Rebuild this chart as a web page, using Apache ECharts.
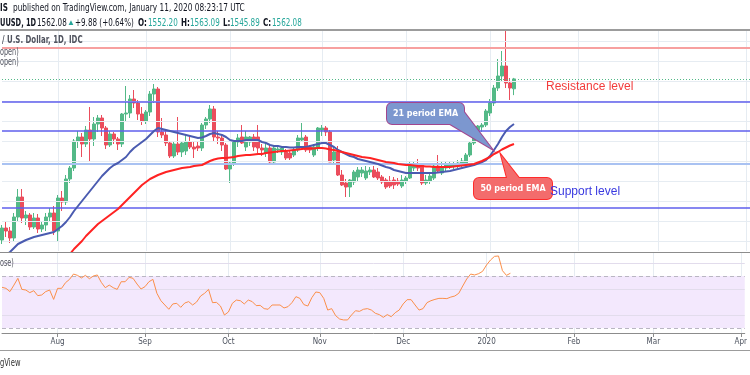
<!DOCTYPE html>
<html><head><meta charset="utf-8">
<script src="https://cdn.jsdelivr.net/npm/echarts@6/dist/echarts.min.js"></script>
<style>html,body{margin:0;padding:0;background:#fff}#c{width:750px;height:375px}</style>
</head><body><div id="c"></div><script>
// ---------- DATA ----------
const opens = [1401,1413,1410,1403,1424,1444,1423,1426,1414,1423,
 1412,1416,1424,1428,1410,1443,1439,1462,1473,1500,
 1504,1497,1511,1502,1517,1523,1513,1496,1507,1502,
 1497,1527,1528,1542,1538,1527,1520,1529,1547,1552,
 1509,1506,1498,1485,1497,1489,1490,1499,1494,1495,
 1493,1516,1522,1532,1504,1503,1496,1472,1478,1499,
 1504,1494,1499,1504,1504,1493,1488,1493,1479,1491,
 1489,1489,1488,1486,1491,1501,1504,1494,1486,1493,
 1511,1513,1509,1481,1489,1466,1458,1454,1459,1464,
 1468,1463,1469,1471,1469,1464,1461,1460,1461,1460,
 1455,1460,1463,1473,1476,1476,1458,1460,1463,1475,
 1468,1473,1474,1475,1475,1476,1478,1486,1498,1511,
 1514,1516,1528,1538,1553,1565,1575,1558,1552.2];
const highs = [1416,1419,1414,1428,1452,1452,1430,1428,1428,1427,
 1419,1428,1433,1435,1446,1450,1466,1475,1502,1510,
 1508,1515,1534,1524,1526,1526,1515,1510,1509,1504,
 1528,1555,1546,1551,1541,1534,1531,1550,1557,1554,
 1523,1511,1500,1500,1524,1500,1506,1505,1500,1500,
 1518,1524,1536,1535,1510,1507,1498,1480,1501,1507,
 1516,1510,1505,1507,1516,1497,1498,1496,1495,1494,
 1495,1492,1490,1494,1506,1518,1506,1496,1497,1514,
 1516,1515,1511,1494,1495,1471,1462,1462,1471,1474,
 1474,1475,1474,1475,1473,1466,1463,1465,1464,1463,
 1466,1465,1480,1480,1482,1478,1466,1468,1478,1486,
 1479,1480,1479,1479,1481,1483,1488,1500,1512,1516,
 1518,1532,1542,1556,1582,1590,1612,1563,1563.09];
const lows = [1397,1404,1398,1400,1420,1418,1416,1411,1412,1408,
 1409,1410,1420,1406,1399,1430,1436,1458,1470,1493,
 1484,1494,1480,1495,1509,1505,1492,1494,1497,1491,
 1494,1520,1523,1533,1521,1516,1517,1525,1538,1504,
 1503,1495,1483,1483,1486,1484,1486,1492,1483,1490,
 1490,1512,1518,1500,1497,1490,1471,1458,1475,1494,
 1497,1490,1495,1490,1488,1485,1484,1476,1477,1488,
 1486,1481,1481,1484,1489,1499,1489,1488,1484,1490,
 1505,1505,1479,1478,1465,1455,1444,1444,1456,1460,
 1464,1461,1466,1463,1461,1457,1452,1453,1452,1455,
 1453,1457,1462,1470,1470,1456,1456,1457,1461,1468,
 1466,1470,1472,1472,1473,1474,1476,1484,1496,1506,
 1509,1514,1525,1535,1550,1560,1553,1541,1545.89];
const closes = [1413,1410,1403,1424,1444,1423,1426,1414,1423,1412,
 1416,1424,1428,1410,1443,1439,1462,1473,1500,1504,
 1497,1511,1502,1517,1523,1513,1496,1507,1502,1497,
 1527,1528,1542,1538,1527,1520,1529,1547,1552,1509,
 1506,1498,1485,1497,1489,1498,1499,1494,1492,1493,
 1516,1522,1532,1504,1503,1496,1472,1478,1499,1503,
 1498,1504,1504,1494,1493,1491,1493,1479,1493,1492,
 1493,1483,1483,1491,1503,1503,1491,1491,1494,1513,
 1513,1509,1479,1489,1466,1456,1454,1461,1469,1471,
 1471,1470,1471,1464,1463,1459,1454,1455,1456,1457,
 1461,1463,1476,1476,1473,1458,1461,1465,1475,1470,
 1473,1476,1476,1476,1478,1480,1486,1498,1510,1515,
 1516,1530,1538,1553,1565,1575,1558,1553,1562.08];
const ema21 = [1383,1386,1389,1393,1397,1399,1401,1402.5,1404,1405,
 1406,1407,1408,1409,1412,1415,1419,1424,1430,1435,
 1440,1445,1450,1455,1460,1465,1469,1473,1476,1478,
 1481,1484,1489,1493,1496,1499,1502,1506,1510,1513,
 1512,1511,1510,1509,1508,1507,1506,1505,1504,1503,
 1503.5,1505,1507,1508,1507,1506,1504,1501,1500,1500,
 1500,1501,1501,1501,1501,1499,1498,1496,1495,1495,
 1494,1494,1493.5,1493.5,1494,1494,1494,1495,1496,1497,
 1498,1498,1496,1494,1491,1489,1487,1485,1484,1482,
 1481,1480,1479,1478,1477,1475.5,1474,1473,1471,1470,
 1469,1468,1468,1468,1468,1468,1468,1468,1468,1468.5,
 1469,1469.5,1470,1471,1472,1473,1474,1475,1476,1477.5,
 1479,1481,1485,1491,1497,1504,1510,1514,1517];
const ema50 = ['-','-','-','-','-','-','-','-','-','-',
 '-','-','-','-','-','-',1383,1387,1392,1396,
 1400,1405,1409,1413,1417,1420,1423,1426,1429,1432,
 1436,1440,1444,1448,1452,1456,1459,1462,1464,1466,
 1467.5,1469,1470,1471,1472,1473,1473.5,1474,1475,1475.5,
 1476,1478,1480,1481.5,1482.5,1483,1483,1483.5,1484,1485,
 1485.5,1486,1486,1486.5,1487,1487,1488,1488.5,1489,1489.5,
 1490,1490,1490.5,1491,1491.5,1492,1492.5,1492.5,1492.5,1493,
 1493,1492.5,1491.5,1491,1490,1489,1488,1487,1486,1485,
 1484,1483.5,1483,1482,1481,1480,1479,1478.5,1478,1477,
 1476.5,1476,1476,1475.5,1475,1475,1474.5,1474.5,1474,1474,
 1474,1474,1474,1474.5,1475,1475.5,1476,1476.5,1477,1478.5,
 1480,1482,1484,1487,1489,1491.5,1493.5,1495.5,1497];
const rsi14 = [61.3,60.5,58,63,68.2,59.7,59.2,57.2,58.7,54.9,
 55.4,58,59.2,52,60.5,60.5,64.9,67.4,71.5,70.5,
 68.5,70.5,67.9,70,70.8,65.1,61,63,61,59.7,
 65.6,65.6,69,68.2,63.8,60,61.8,65.6,67.4,56.7,
 51,47.7,44.4,48.5,49,45.9,49.2,50.3,47.7,50,
 54.6,56.7,59.7,49.5,49.7,46.9,40,42.3,49,51.5,
 51,48.5,51.5,50.3,47.2,47.4,44.9,44.4,47.7,47.7,
 47.7,45.4,46.4,49.5,54.1,52.8,48,46.9,53.3,57.7,
 57.2,52.8,43.8,44.9,39.5,36.9,36.2,36.2,40,43.3,
 42.8,44.4,44.9,43.8,41.3,40.3,38.2,40.3,38.7,41.8,
 43.8,48.5,51.8,51.8,47.7,43.8,44.9,49.5,51,52,
 52.8,52.8,52.6,53.8,54.6,56.7,62.3,67.7,71.5,70.8,
 71.8,73.6,78.5,82.3,85.1,85.4,74.1,70.5,72.1];
const redLevels = [1593];
const blueLevels = [1539, 1510, 1433];
const lightBlueLevels = [1477];
const priceGridLevels = [1400,1420,1440,1460,1480,1500,1520,1540,1560,1580,1600];
const rsiBandLevels = [30, 70];
const rsiGridLevels = [40, 60, 80];
const tickDates = ['2019-08-01','2019-09-02','2019-10-01','2019-11-01','2019-12-02','2020-01-02','2020-02-03','2020-03-02','2020-04-01'];
const tickLabels = ['Aug','Sep','Oct','Nov','Dec','2020','Feb','Mar','Apr'];
const holidays = ['2019-12-25','2020-01-01'];
const firstDay = '2019-07-12', lastDay = '2020-04-02';

// ---------- BUILD ----------
function tradingDays(a, b, skip) {
  const out = [];
  const d = new Date(a + 'T00:00:00Z'), e = new Date(b + 'T00:00:00Z');
  while (d <= e) {
    const wd = d.getUTCDay();
    const s = d.toISOString().slice(0, 10);
    if (wd !== 0 && wd !== 6 && skip.indexOf(s) < 0) out.push(s);
    d.setUTCDate(d.getUTCDate() + 1);
  }
  return out;
}
const cats = tradingDays(firstDay, lastDay, holidays);
const candles = opens.map((o, i) => [o, closes[i], lows[i], highs[i]]);
const isTick = (idx, val) => tickDates.indexOf(val) >= 0;

const NARROW = "'Liberation Sans Narrow','DejaVu Sans Condensed','Arial Narrow',sans-serif";
const SANS = "'Liberation Sans',Arial,sans-serif";
const GRIDC = '#e6ecf2';
const UP = '#53b987', DOWN = '#eb4d5c', TEAL = '#26a69a';

function txt(x, y, text, font, fill, align, sx) {
  return { type: 'text', x: x, y: y, z: 100, silent: true, scaleX: sx || 1,
    style: { text: text, font: font, fill: fill, textAlign: align || 'left', align: align || 'left',
             textVerticalAlign: 'middle', verticalAlign: 'middle' } };
}
function line(x1, y1, x2, y2, color, w) {
  return { type: 'line', z: 90, silent: true, shape: { x1: x1, y1: y1, x2: x2, y2: y2 },
    style: { stroke: color, lineWidth: w } };
}
function callout(box, tail, fill, stroke, label) {
  const r = { x: box[0], y: box[1], width: box[2], height: box[3], r: 5 };
  return [
    { type: 'polygon', z: 95, silent: true, shape: { points: tail }, style: { fill: fill, stroke: stroke, lineWidth: 2 } },
    { type: 'rect', z: 95, silent: true, shape: r, style: { fill: fill, stroke: stroke, lineWidth: 2 } },
    { type: 'polygon', z: 96, silent: true, shape: { points: tail }, style: { fill: fill } },
    { type: 'rect', z: 96, silent: true, shape: r, style: { fill: fill } },
    txt(box[0] + box[2] / 2, box[1] + box[3] / 2 + 0.5, label, "bold 9.5px 'DejaVu Sans',sans-serif", '#ffffff', 'center', 0.84)
  ];
}

const HF = '10px ' + NARROW, HB = 'bold 10px ' + NARROW, SX = 0.8;
const DARK = '#131722', GREY = '#50535e';
const graphics = [
  line(0, 30, 750, 30, '#9c9c9c', 2),
  line(0, 252.5, 750, 252.5, '#8c8c8c', 1),
  line(0, 350.5, 750, 350.5, '#9c9c9c', 1),
  txt(0, 8, 'IS', HB, DARK, 'left', SX),
  txt(13, 8, 'published on TradingView.com, January 11, 2020 08:23:17 UTC', HF, DARK, 'left', 0.82),
  txt(0, 23, 'UUSD, 1D', HB, DARK, 'left', 0.74),
  txt(37, 23, '1562.08', HF, DARK, 'left', SX),
  txt(67, 23, '\u25B2', '8px ' + SANS, TEAL),
  txt(75, 23, '+9.88 (+0.64%)', HF, DARK, 'left', SX),
  txt(138, 23, 'O:', HB, DARK, 'left', SX), txt(148, 23, '1552.20', HF, TEAL, 'left', SX),
  txt(181, 23, 'H:', HB, DARK, 'left', SX), txt(190, 23, '1563.09', HF, TEAL, 'left', SX),
  txt(223, 23, 'L:', HB, DARK, 'left', SX), txt(230, 23, '1545.89', HF, TEAL, 'left', SX),
  txt(263, 23, 'C:', HB, DARK, 'left', SX), txt(272, 23, '1562.08', HF, TEAL, 'left', SX),
  txt(2, 40, '/ U.S. Dollar, 1D, IDC', HB, GREY, 'left', 0.78),
  txt(0, 52, 'open)', HF, GREY, 'left', 0.72),
  txt(0, 62, 'open)', HF, GREY, 'left', 0.72),
  txt(0, 263, 'ose)', HF, GREY, 'left', 0.72),
  txt(0, 363, 'gView', '10.5px ' + NARROW, '#333333', 'left', 0.72),
  txt(546, 87, 'Resistance level', '12px ' + SANS, '#f23c3c'),
  txt(550, 192, 'Support level', '12px ' + SANS, '#3a3ae0')
].concat(
  callout([387, 103, 77, 21], [[450, 124], [464, 112], [492, 149]], '#7c97cf', '#a2468e', '21 period EMA'),
  callout([474, 178, 78, 21], [[507, 178], [501, 155], [519, 178]], '#f36c6c', '#ff2b2b', '50 period EMA')
);

const hl = (arr, color, width, type) => arr.map(v => ({ yAxis: v, lineStyle: { color: color, width: width, type: type || 'solid' } }));

const option = {
  animation: false,
  backgroundColor: '#ffffff',
  grid: [
    { left: 2, top: 31, width: 748, height: 220 },
    { left: 2, top: 252, width: 748, height: 81 }
  ],
  xAxis: [
    { type: 'category', gridIndex: 0, data: cats, boundaryGap: false,
      axisLine: { show: false }, axisTick: { show: false }, axisLabel: { show: false },
      splitLine: { show: true, interval: isTick, lineStyle: { color: GRIDC, width: 1 } } },
    { type: 'category', gridIndex: 1, data: cats, boundaryGap: false,
      axisLine: { show: true, lineStyle: { color: '#8c8c8c', width: 1 } },
      axisTick: { show: true, interval: isTick, length: 4, lineStyle: { color: '#8c8c8c' } },
      axisLabel: { show: true, interval: isTick, margin: 5, fontSize: 8, color: '#4c525e', fontFamily: NARROW,
        formatter: v => tickLabels[tickDates.indexOf(v)] || '' },
      splitLine: { show: true, interval: isTick, lineStyle: { color: GRIDC, width: 1 } } }
  ],
  yAxis: [
    { type: 'value', gridIndex: 0, min: 1390, max: 1610, show: false, splitLine: { show: false } },
    { type: 'value', gridIndex: 1, min: 26.154, max: 88.462, show: false, splitLine: { show: false } }
  ],
  series: [
    { type: 'line', xAxisIndex: 0, yAxisIndex: 0, data: [], z: 1, silent: true,
      markLine: { silent: true, symbol: 'none', label: { show: false }, animation: false,
        data: hl(priceGridLevels, GRIDC, 1) } },
    { type: 'candlestick', xAxisIndex: 0, yAxisIndex: 0, data: candles, barWidth: 3, clip: false, z: 3,
      itemStyle: { color: UP, color0: DOWN, borderColor: UP, borderColor0: DOWN, borderWidth: 1 } },
    { type: 'line', xAxisIndex: 0, yAxisIndex: 0, data: [], z: 4, silent: true,
      markLine: { silent: true, symbol: 'none', label: { show: false }, animation: false,
        data: hl(redLevels, '#f7a0a0', 2)
          .concat(hl(blueLevels, '#5f5fec', 1.6))
          .concat(hl(lightBlueLevels, '#a9c2f2', 2))
          .concat(hl([closes[closes.length - 1]], UP, 1, [1, 2])) } },
    { type: 'line', xAxisIndex: 0, yAxisIndex: 0, data: ema21, showSymbol: false, z: 5, silent: true,
      lineStyle: { color: '#4a5bb0', width: 2 } },
    { type: 'line', xAxisIndex: 0, yAxisIndex: 0, data: ema50, showSymbol: false, z: 5, silent: true,
      lineStyle: { color: '#ff2222', width: 2 } },
    { type: 'line', xAxisIndex: 1, yAxisIndex: 1, data: [], z: 1, silent: true,
      markArea: { silent: true, itemStyle: { color: '#f3e8fd' },
        data: [[{ yAxis: rsiBandLevels[0] }, { yAxis: rsiBandLevels[1] }]] } },
    { type: 'line', xAxisIndex: 1, yAxisIndex: 1, data: [], z: 2, silent: true,
      markLine: { silent: true, symbol: 'none', label: { show: false }, animation: false,
        data: hl(rsiGridLevels, '#e2dcec', 1).concat(hl(rsiBandLevels, '#b9b6c2', 1, [4, 3])) } },
    { type: 'line', xAxisIndex: 1, yAxisIndex: 1, data: rsi14, showSymbol: false, z: 5, silent: true,
      lineStyle: { color: '#fb8f4a', width: 1 } }
  ],
  graphic: graphics
};
const chart = echarts.init(document.getElementById('c'));
chart.setOption(option);
</script></body></html>
